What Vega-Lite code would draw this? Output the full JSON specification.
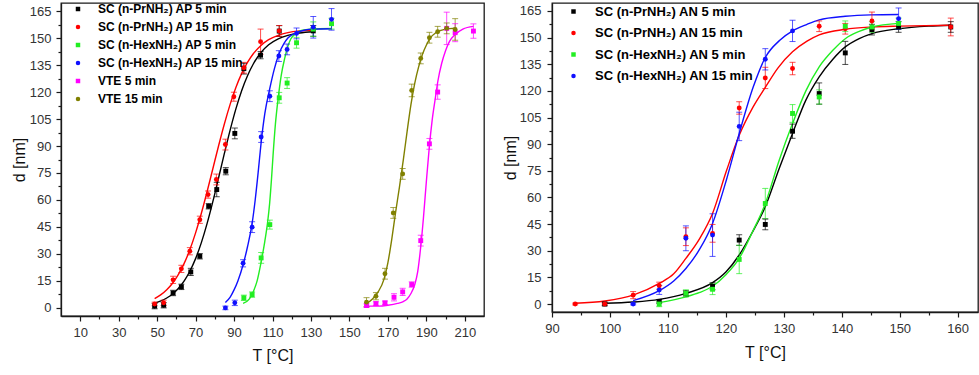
{
"$schema": "https://vega.github.io/schema/vega-lite/v6.json",
"padding": {"left": 10, "top": 2, "right": 0, "bottom": 0},
"spacing": 16,
"config": {
 "font": "Liberation Sans",
 "view": {"stroke": "#1a1a1a", "strokeWidth": 1.3},
 "axis": {"domainColor": "#1a1a1a", "tickColor": "#1a1a1a", "labelColor": "#333333", "labelFontSize": 13, "titleFontSize": 16, "titleFontWeight": "normal", "titleColor": "#111111", "grid": false, "domainWidth": 1.3, "tickWidth": 1.2, "labelFlush": false, "labelOverlap": false}
},
"datasets": {
 "pL": [
  {"s":"SC (n-PrNH₂) AP 5 min","T":48.7,"d":1,"lo":-0.5,"hi":2.5},{"s":"SC (n-PrNH₂) AP 5 min","T":53.4,"d":1.5,"lo":0,"hi":3},{"s":"SC (n-PrNH₂) AP 5 min","T":58.3,"d":8.3,"lo":6.8,"hi":9.8},{"s":"SC (n-PrNH₂) AP 5 min","T":62.6,"d":11.7,"lo":10.2,"hi":13.2},{"s":"SC (n-PrNH₂) AP 5 min","T":67.5,"d":20,"lo":18,"hi":22},{"s":"SC (n-PrNH₂) AP 5 min","T":72.2,"d":28.7,"lo":27.2,"hi":30.2},{"s":"SC (n-PrNH₂) AP 5 min","T":76.8,"d":56.5,"lo":55,"hi":58},{"s":"SC (n-PrNH₂) AP 5 min","T":81,"d":65.8,"lo":61.8,"hi":69.8},{"s":"SC (n-PrNH₂) AP 5 min","T":85.7,"d":76,"lo":74,"hi":78},{"s":"SC (n-PrNH₂) AP 5 min","T":90.4,"d":97,"lo":94,"hi":100},{"s":"SC (n-PrNH₂) AP 5 min","T":95.1,"d":133,"lo":130,"hi":136},{"s":"SC (n-PrNH₂) AP 5 min","T":103.8,"d":140.5,"lo":138.5,"hi":142.5},{"s":"SC (n-PrNH₂) AP 5 min","T":113.5,"d":153.9,"lo":150.9,"hi":156.9},{"s":"SC (n-PrNH₂) AP 5 min","T":131.2,"d":154,"lo":151,"hi":157},
  {"s":"SC (n-PrNH₂) AP 15 min","T":48.7,"d":2.2,"lo":1.2,"hi":3.2},{"s":"SC (n-PrNH₂) AP 15 min","T":53.4,"d":2.8,"lo":1.3,"hi":4.3},{"s":"SC (n-PrNH₂) AP 15 min","T":58.3,"d":15.6,"lo":13.6,"hi":17.6},{"s":"SC (n-PrNH₂) AP 15 min","T":62.6,"d":21.7,"lo":19.7,"hi":23.7},{"s":"SC (n-PrNH₂) AP 15 min","T":67,"d":31.5,"lo":29.5,"hi":33.5},{"s":"SC (n-PrNH₂) AP 15 min","T":72.2,"d":49,"lo":47,"hi":51},{"s":"SC (n-PrNH₂) AP 15 min","T":76.5,"d":63,"lo":61,"hi":65},{"s":"SC (n-PrNH₂) AP 15 min","T":80.8,"d":71.4,"lo":68.4,"hi":74.4},{"s":"SC (n-PrNH₂) AP 15 min","T":85.5,"d":90.8,"lo":87.8,"hi":93.8},{"s":"SC (n-PrNH₂) AP 15 min","T":89.9,"d":117.4,"lo":114.9,"hi":119.9},{"s":"SC (n-PrNH₂) AP 15 min","T":95.1,"d":133.5,"lo":130.5,"hi":136.5},{"s":"SC (n-PrNH₂) AP 15 min","T":103.8,"d":148,"lo":141,"hi":155},{"s":"SC (n-PrNH₂) AP 15 min","T":113.5,"d":154,"lo":151,"hi":157},
  {"s":"SC (n-HexNH₂) AP 5 min","T":95.1,"d":5.6,"lo":4.1,"hi":7.1},{"s":"SC (n-HexNH₂) AP 5 min","T":99.4,"d":7.4,"lo":5.9,"hi":8.9},{"s":"SC (n-HexNH₂) AP 5 min","T":104.1,"d":27.8,"lo":24.8,"hi":30.8},{"s":"SC (n-HexNH₂) AP 5 min","T":108.6,"d":46.3,"lo":43.8,"hi":48.8},{"s":"SC (n-HexNH₂) AP 5 min","T":113.5,"d":116.8,"lo":113.8,"hi":119.8},{"s":"SC (n-HexNH₂) AP 5 min","T":117.6,"d":125,"lo":122,"hi":128},{"s":"SC (n-HexNH₂) AP 5 min","T":122.5,"d":147.4,"lo":144.4,"hi":150.4},{"s":"SC (n-HexNH₂) AP 5 min","T":131.2,"d":155,"lo":151,"hi":159},{"s":"SC (n-HexNH₂) AP 5 min","T":140.7,"d":158,"lo":155,"hi":161},
  {"s":"SC (n-HexNH₂) AP 15 min","T":85.5,"d":0,"lo":-1,"hi":1},{"s":"SC (n-HexNH₂) AP 15 min","T":90.4,"d":2.8,"lo":1.3,"hi":4.3},{"s":"SC (n-HexNH₂) AP 15 min","T":94.7,"d":24.8,"lo":22.8,"hi":26.8},{"s":"SC (n-HexNH₂) AP 15 min","T":99.4,"d":44.9,"lo":41.9,"hi":47.9},{"s":"SC (n-HexNH₂) AP 15 min","T":104.1,"d":95,"lo":92,"hi":98},{"s":"SC (n-HexNH₂) AP 15 min","T":108.6,"d":117.7,"lo":114.7,"hi":120.7},{"s":"SC (n-HexNH₂) AP 15 min","T":113.3,"d":140,"lo":137,"hi":143},{"s":"SC (n-HexNH₂) AP 15 min","T":117.6,"d":143.7,"lo":140.7,"hi":146.7},{"s":"SC (n-HexNH₂) AP 15 min","T":122.5,"d":152.6,"lo":149.6,"hi":155.6},{"s":"SC (n-HexNH₂) AP 15 min","T":131.2,"d":156,"lo":150,"hi":162},{"s":"SC (n-HexNH₂) AP 15 min","T":140.7,"d":160.4,"lo":154.4,"hi":166.4},
  {"s":"VTE 5 min","T":158.9,"d":1.3,"lo":0.3,"hi":2.3},{"s":"VTE 5 min","T":163.8,"d":2.4,"lo":1.4,"hi":3.4},{"s":"VTE 5 min","T":168.5,"d":2.8,"lo":1.8,"hi":3.8},{"s":"VTE 5 min","T":173.2,"d":5.9,"lo":3.9,"hi":7.9},{"s":"VTE 5 min","T":177.7,"d":8.9,"lo":6.9,"hi":10.9},{"s":"VTE 5 min","T":182.4,"d":13,"lo":11.5,"hi":14.5},{"s":"VTE 5 min","T":187.1,"d":37.4,"lo":34.4,"hi":40.4},{"s":"VTE 5 min","T":191.6,"d":91.2,"lo":88.2,"hi":94.2},{"s":"VTE 5 min","T":195.9,"d":120,"lo":116,"hi":124},{"s":"VTE 5 min","T":200.6,"d":155.4,"lo":146.4,"hi":164.4},{"s":"VTE 5 min","T":205,"d":153,"lo":148,"hi":158},{"s":"VTE 5 min","T":214.5,"d":153.9,"lo":149.9,"hi":157.9},
  {"s":"VTE 15 min","T":158.9,"d":3.2,"lo":0.7,"hi":5.7},{"s":"VTE 15 min","T":163.8,"d":6.5,"lo":4.5,"hi":8.5},{"s":"VTE 15 min","T":168.5,"d":19,"lo":16,"hi":22},{"s":"VTE 15 min","T":172.8,"d":52.8,"lo":49.8,"hi":55.8},{"s":"VTE 15 min","T":177.7,"d":74.5,"lo":71.5,"hi":77.5},{"s":"VTE 15 min","T":182.4,"d":120.9,"lo":117.4,"hi":124.4},{"s":"VTE 15 min","T":187.1,"d":138.7,"lo":135.7,"hi":141.7},{"s":"VTE 15 min","T":191.6,"d":150.2,"lo":147.2,"hi":153.2},{"s":"VTE 15 min","T":195.9,"d":153.5,"lo":150.5,"hi":156.5},{"s":"VTE 15 min","T":200.6,"d":155.4,"lo":152.4,"hi":158.4},{"s":"VTE 15 min","T":205,"d":154.8,"lo":148.8,"hi":160.8}
 ],
 "fL": [
  {"s":"SC (n-PrNH₂) AP 5 min","T":48.7,"d":2.7},{"s":"SC (n-PrNH₂) AP 5 min","T":52,"d":3.9},{"s":"SC (n-PrNH₂) AP 5 min","T":55,"d":5.5},{"s":"SC (n-PrNH₂) AP 5 min","T":58,"d":7.7},{"s":"SC (n-PrNH₂) AP 5 min","T":61,"d":10.8},{"s":"SC (n-PrNH₂) AP 5 min","T":64,"d":14.9},{"s":"SC (n-PrNH₂) AP 5 min","T":67,"d":20.4},{"s":"SC (n-PrNH₂) AP 5 min","T":70,"d":27.4},{"s":"SC (n-PrNH₂) AP 5 min","T":73,"d":36.3},{"s":"SC (n-PrNH₂) AP 5 min","T":76,"d":47},{"s":"SC (n-PrNH₂) AP 5 min","T":79,"d":59.2},{"s":"SC (n-PrNH₂) AP 5 min","T":82,"d":72.5},{"s":"SC (n-PrNH₂) AP 5 min","T":85,"d":86},{"s":"SC (n-PrNH₂) AP 5 min","T":88,"d":99},{"s":"SC (n-PrNH₂) AP 5 min","T":91,"d":110.8},{"s":"SC (n-PrNH₂) AP 5 min","T":94,"d":120.9},{"s":"SC (n-PrNH₂) AP 5 min","T":97,"d":129.1},{"s":"SC (n-PrNH₂) AP 5 min","T":100,"d":135.6},{"s":"SC (n-PrNH₂) AP 5 min","T":104,"d":142},{"s":"SC (n-PrNH₂) AP 5 min","T":108,"d":146.3},{"s":"SC (n-PrNH₂) AP 5 min","T":113,"d":149.6},{"s":"SC (n-PrNH₂) AP 5 min","T":118,"d":151.5},{"s":"SC (n-PrNH₂) AP 5 min","T":124,"d":152.8},{"s":"SC (n-PrNH₂) AP 5 min","T":131.2,"d":153.5},
  {"s":"SC (n-PrNH₂) AP 15 min","T":48.7,"d":5.2},{"s":"SC (n-PrNH₂) AP 15 min","T":52,"d":7.35},{"s":"SC (n-PrNH₂) AP 15 min","T":55,"d":10.1},{"s":"SC (n-PrNH₂) AP 15 min","T":58,"d":13.7},{"s":"SC (n-PrNH₂) AP 15 min","T":61,"d":18.5},{"s":"SC (n-PrNH₂) AP 15 min","T":64,"d":24.6},{"s":"SC (n-PrNH₂) AP 15 min","T":67,"d":32.3},{"s":"SC (n-PrNH₂) AP 15 min","T":70,"d":41.7},{"s":"SC (n-PrNH₂) AP 15 min","T":73,"d":52.6},{"s":"SC (n-PrNH₂) AP 15 min","T":76,"d":64.7},{"s":"SC (n-PrNH₂) AP 15 min","T":79,"d":77.5},{"s":"SC (n-PrNH₂) AP 15 min","T":82,"d":90.3},{"s":"SC (n-PrNH₂) AP 15 min","T":85,"d":102.4},{"s":"SC (n-PrNH₂) AP 15 min","T":88,"d":113.3},{"s":"SC (n-PrNH₂) AP 15 min","T":91,"d":122.7},{"s":"SC (n-PrNH₂) AP 15 min","T":94,"d":130.4},{"s":"SC (n-PrNH₂) AP 15 min","T":97,"d":136.5},{"s":"SC (n-PrNH₂) AP 15 min","T":100,"d":141.3},{"s":"SC (n-PrNH₂) AP 15 min","T":104,"d":145.9},{"s":"SC (n-PrNH₂) AP 15 min","T":108,"d":149.1},{"s":"SC (n-PrNH₂) AP 15 min","T":113,"d":151.5},{"s":"SC (n-PrNH₂) AP 15 min","T":118,"d":153},{"s":"SC (n-PrNH₂) AP 15 min","T":124,"d":154},{"s":"SC (n-PrNH₂) AP 15 min","T":131.2,"d":154.5},
  {"s":"SC (n-HexNH₂) AP 5 min","T":94.7,"d":2.5},{"s":"SC (n-HexNH₂) AP 5 min","T":98,"d":5},{"s":"SC (n-HexNH₂) AP 5 min","T":100,"d":9},{"s":"SC (n-HexNH₂) AP 5 min","T":102,"d":15},{"s":"SC (n-HexNH₂) AP 5 min","T":104,"d":25},{"s":"SC (n-HexNH₂) AP 5 min","T":106,"d":37},{"s":"SC (n-HexNH₂) AP 5 min","T":107.5,"d":48},{"s":"SC (n-HexNH₂) AP 5 min","T":108.5,"d":58},{"s":"SC (n-HexNH₂) AP 5 min","T":109.5,"d":72},{"s":"SC (n-HexNH₂) AP 5 min","T":110.3,"d":85},{"s":"SC (n-HexNH₂) AP 5 min","T":111.5,"d":102},{"s":"SC (n-HexNH₂) AP 5 min","T":113,"d":117},{"s":"SC (n-HexNH₂) AP 5 min","T":114.5,"d":129},{"s":"SC (n-HexNH₂) AP 5 min","T":116.4,"d":139},{"s":"SC (n-HexNH₂) AP 5 min","T":118,"d":145.5},{"s":"SC (n-HexNH₂) AP 5 min","T":119.5,"d":149.5},{"s":"SC (n-HexNH₂) AP 5 min","T":122,"d":152.5},{"s":"SC (n-HexNH₂) AP 5 min","T":125,"d":154.3},{"s":"SC (n-HexNH₂) AP 5 min","T":130,"d":155},{"s":"SC (n-HexNH₂) AP 5 min","T":140.7,"d":155.3},
  {"s":"SC (n-HexNH₂) AP 15 min","T":85.5,"d":3},{"s":"SC (n-HexNH₂) AP 15 min","T":88,"d":6},{"s":"SC (n-HexNH₂) AP 15 min","T":90,"d":10},{"s":"SC (n-HexNH₂) AP 15 min","T":92,"d":15},{"s":"SC (n-HexNH₂) AP 15 min","T":94.7,"d":24},{"s":"SC (n-HexNH₂) AP 15 min","T":97,"d":34},{"s":"SC (n-HexNH₂) AP 15 min","T":99.4,"d":47},{"s":"SC (n-HexNH₂) AP 15 min","T":101,"d":60},{"s":"SC (n-HexNH₂) AP 15 min","T":102.7,"d":77},{"s":"SC (n-HexNH₂) AP 15 min","T":104.1,"d":92},{"s":"SC (n-HexNH₂) AP 15 min","T":106,"d":108},{"s":"SC (n-HexNH₂) AP 15 min","T":108.6,"d":122},{"s":"SC (n-HexNH₂) AP 15 min","T":111,"d":133},{"s":"SC (n-HexNH₂) AP 15 min","T":113.3,"d":141},{"s":"SC (n-HexNH₂) AP 15 min","T":116,"d":147},{"s":"SC (n-HexNH₂) AP 15 min","T":118,"d":150},{"s":"SC (n-HexNH₂) AP 15 min","T":122.5,"d":153},{"s":"SC (n-HexNH₂) AP 15 min","T":127,"d":154.5},{"s":"SC (n-HexNH₂) AP 15 min","T":131,"d":155},{"s":"SC (n-HexNH₂) AP 15 min","T":140.7,"d":155.2},
  {"s":"VTE 5 min","T":158.9,"d":1},{"s":"VTE 5 min","T":165,"d":1},{"s":"VTE 5 min","T":170,"d":1.5},{"s":"VTE 5 min","T":175,"d":2.5},{"s":"VTE 5 min","T":178,"d":3.5},{"s":"VTE 5 min","T":180,"d":5},{"s":"VTE 5 min","T":182,"d":8},{"s":"VTE 5 min","T":184,"d":13},{"s":"VTE 5 min","T":185.5,"d":20},{"s":"VTE 5 min","T":187,"d":33},{"s":"VTE 5 min","T":188.5,"d":50},{"s":"VTE 5 min","T":190,"d":70},{"s":"VTE 5 min","T":191.6,"d":90},{"s":"VTE 5 min","T":193,"d":104},{"s":"VTE 5 min","T":194.6,"d":116},{"s":"VTE 5 min","T":196,"d":126},{"s":"VTE 5 min","T":198,"d":136},{"s":"VTE 5 min","T":200,"d":143},{"s":"VTE 5 min","T":202,"d":148},{"s":"VTE 5 min","T":205,"d":152},{"s":"VTE 5 min","T":209,"d":155},{"s":"VTE 5 min","T":214.5,"d":156.5},
  {"s":"VTE 15 min","T":158.9,"d":2.5},{"s":"VTE 15 min","T":162,"d":5},{"s":"VTE 15 min","T":165,"d":9},{"s":"VTE 15 min","T":168,"d":16},{"s":"VTE 15 min","T":170,"d":25},{"s":"VTE 15 min","T":172,"d":38},{"s":"VTE 15 min","T":174,"d":53},{"s":"VTE 15 min","T":176,"d":67},{"s":"VTE 15 min","T":178,"d":82},{"s":"VTE 15 min","T":180,"d":98},{"s":"VTE 15 min","T":182,"d":113},{"s":"VTE 15 min","T":184,"d":125},{"s":"VTE 15 min","T":186,"d":134},{"s":"VTE 15 min","T":188,"d":141},{"s":"VTE 15 min","T":190,"d":146},{"s":"VTE 15 min","T":192,"d":150},{"s":"VTE 15 min","T":195,"d":153},{"s":"VTE 15 min","T":200,"d":155},{"s":"VTE 15 min","T":205,"d":155.5}
 ],
 "pR": [
  {"s":"SC (n-PrNH₂) AN 5 min","T":99.1,"d":0,"lo":-1,"hi":1},{"s":"SC (n-PrNH₂) AN 5 min","T":108.5,"d":1.5,"lo":0.5,"hi":2.5},{"s":"SC (n-PrNH₂) AN 5 min","T":113.1,"d":6,"lo":4.5,"hi":7.5},{"s":"SC (n-PrNH₂) AN 5 min","T":117.7,"d":10,"lo":8,"hi":12},{"s":"SC (n-PrNH₂) AN 5 min","T":122.3,"d":36,"lo":33,"hi":39},{"s":"SC (n-PrNH₂) AN 5 min","T":126.8,"d":44.8,"lo":41.8,"hi":47.8},{"s":"SC (n-PrNH₂) AN 5 min","T":131.5,"d":97.3,"lo":93.3,"hi":101.3},{"s":"SC (n-PrNH₂) AN 5 min","T":136.1,"d":118.5,"lo":112.5,"hi":124.5},{"s":"SC (n-PrNH₂) AN 5 min","T":140.6,"d":141.4,"lo":134.9,"hi":147.9},{"s":"SC (n-PrNH₂) AN 5 min","T":145.2,"d":154.5,"lo":151.5,"hi":157.5},{"s":"SC (n-PrNH₂) AN 5 min","T":149.8,"d":156,"lo":153,"hi":159},{"s":"SC (n-PrNH₂) AN 5 min","T":158.8,"d":156,"lo":153,"hi":159},
  {"s":"SC (n-PrNH₂) AN 15 min","T":94,"d":0,"lo":-0.5,"hi":0.5},{"s":"SC (n-PrNH₂) AN 15 min","T":99.1,"d":0,"lo":-0.5,"hi":0.5},{"s":"SC (n-PrNH₂) AN 15 min","T":104,"d":5,"lo":3,"hi":7},{"s":"SC (n-PrNH₂) AN 15 min","T":108.5,"d":10.3,"lo":8.3,"hi":12.3},{"s":"SC (n-PrNH₂) AN 15 min","T":113.1,"d":37.9,"lo":32.9,"hi":42.9},{"s":"SC (n-PrNH₂) AN 15 min","T":117.7,"d":39.8,"lo":34.8,"hi":44.8},{"s":"SC (n-PrNH₂) AN 15 min","T":122.3,"d":110.4,"lo":106.9,"hi":113.9},{"s":"SC (n-PrNH₂) AN 15 min","T":126.8,"d":127.3,"lo":121.3,"hi":133.3},{"s":"SC (n-PrNH₂) AN 15 min","T":131.5,"d":132.6,"lo":129.1,"hi":136.1},{"s":"SC (n-PrNH₂) AN 15 min","T":136.1,"d":156.4,"lo":153.4,"hi":159.4},{"s":"SC (n-PrNH₂) AN 15 min","T":140.6,"d":155,"lo":152,"hi":158},{"s":"SC (n-PrNH₂) AN 15 min","T":145.2,"d":159.4,"lo":154.4,"hi":164.4},{"s":"SC (n-PrNH₂) AN 15 min","T":158.8,"d":156,"lo":151,"hi":161},
  {"s":"SC (n-HexNH₂) AN 5 min","T":108.5,"d":0,"lo":-1.5,"hi":1.5},{"s":"SC (n-HexNH₂) AN 5 min","T":113.1,"d":6,"lo":4,"hi":8},{"s":"SC (n-HexNH₂) AN 5 min","T":117.7,"d":8.3,"lo":5.3,"hi":11.3},{"s":"SC (n-HexNH₂) AN 5 min","T":122.3,"d":25.1,"lo":17.1,"hi":33.1},{"s":"SC (n-HexNH₂) AN 5 min","T":126.8,"d":56.6,"lo":48.1,"hi":65.1},{"s":"SC (n-HexNH₂) AN 5 min","T":131.5,"d":107.3,"lo":102.3,"hi":112.3},{"s":"SC (n-HexNH₂) AN 5 min","T":136.1,"d":116.6,"lo":112.6,"hi":120.6},{"s":"SC (n-HexNH₂) AN 5 min","T":140.6,"d":156.4,"lo":153.4,"hi":159.4},{"s":"SC (n-HexNH₂) AN 5 min","T":145.2,"d":156,"lo":153,"hi":159},{"s":"SC (n-HexNH₂) AN 5 min","T":149.8,"d":158,"lo":155,"hi":161},
  {"s":"SC (n-HexNH₂) AN 15 min","T":104,"d":0,"lo":-0.5,"hi":0.5},{"s":"SC (n-HexNH₂) AN 15 min","T":108.5,"d":7.9,"lo":5.4,"hi":10.4},{"s":"SC (n-HexNH₂) AN 15 min","T":113.1,"d":37,"lo":30,"hi":44},{"s":"SC (n-HexNH₂) AN 15 min","T":117.7,"d":38.8,"lo":26.8,"hi":50.8},{"s":"SC (n-HexNH₂) AN 15 min","T":122.3,"d":100,"lo":92,"hi":108},{"s":"SC (n-HexNH₂) AN 15 min","T":126.8,"d":137.8,"lo":131.8,"hi":143.8},{"s":"SC (n-HexNH₂) AN 15 min","T":131.5,"d":153.8,"lo":147.8,"hi":159.8},{"s":"SC (n-HexNH₂) AN 15 min","T":149.8,"d":160.7,"lo":154.7,"hi":166.7}
 ],
 "fR": [
  {"s":"SC (n-PrNH₂) AN 5 min","T":99.1,"d":0.4},{"s":"SC (n-PrNH₂) AN 5 min","T":104,"d":1.1},{"s":"SC (n-PrNH₂) AN 5 min","T":108.5,"d":2.6},{"s":"SC (n-PrNH₂) AN 5 min","T":113.1,"d":6},{"s":"SC (n-PrNH₂) AN 5 min","T":117.7,"d":12},{"s":"SC (n-PrNH₂) AN 5 min","T":120,"d":18},{"s":"SC (n-PrNH₂) AN 5 min","T":122.3,"d":27.6},{"s":"SC (n-PrNH₂) AN 5 min","T":124.5,"d":40},{"s":"SC (n-PrNH₂) AN 5 min","T":126.8,"d":54.8},{"s":"SC (n-PrNH₂) AN 5 min","T":129.2,"d":76.3},{"s":"SC (n-PrNH₂) AN 5 min","T":131.5,"d":96},{"s":"SC (n-PrNH₂) AN 5 min","T":133.8,"d":114.8},{"s":"SC (n-PrNH₂) AN 5 min","T":136.1,"d":127.9},{"s":"SC (n-PrNH₂) AN 5 min","T":138.5,"d":138},{"s":"SC (n-PrNH₂) AN 5 min","T":140.6,"d":144.8},{"s":"SC (n-PrNH₂) AN 5 min","T":143,"d":149.5},{"s":"SC (n-PrNH₂) AN 5 min","T":145.2,"d":152.3},{"s":"SC (n-PrNH₂) AN 5 min","T":149.8,"d":155},{"s":"SC (n-PrNH₂) AN 5 min","T":155,"d":156.5},{"s":"SC (n-PrNH₂) AN 5 min","T":158.8,"d":157},
  {"s":"SC (n-PrNH₂) AN 15 min","T":94,"d":0.4},{"s":"SC (n-PrNH₂) AN 15 min","T":99.1,"d":1.7},{"s":"SC (n-PrNH₂) AN 15 min","T":104,"d":5},{"s":"SC (n-PrNH₂) AN 15 min","T":108.5,"d":11.6},{"s":"SC (n-PrNH₂) AN 15 min","T":111,"d":17},{"s":"SC (n-PrNH₂) AN 15 min","T":113.1,"d":25.7},{"s":"SC (n-PrNH₂) AN 15 min","T":115.5,"d":37},{"s":"SC (n-PrNH₂) AN 15 min","T":117.7,"d":51},{"s":"SC (n-PrNH₂) AN 15 min","T":120.1,"d":75},{"s":"SC (n-PrNH₂) AN 15 min","T":122.3,"d":95},{"s":"SC (n-PrNH₂) AN 15 min","T":124.7,"d":111},{"s":"SC (n-PrNH₂) AN 15 min","T":126.8,"d":122},{"s":"SC (n-PrNH₂) AN 15 min","T":129,"d":133},{"s":"SC (n-PrNH₂) AN 15 min","T":131.5,"d":142},{"s":"SC (n-PrNH₂) AN 15 min","T":134,"d":148},{"s":"SC (n-PrNH₂) AN 15 min","T":136.1,"d":151.5},{"s":"SC (n-PrNH₂) AN 15 min","T":140.6,"d":154.7},{"s":"SC (n-PrNH₂) AN 15 min","T":145.2,"d":156},{"s":"SC (n-PrNH₂) AN 15 min","T":150,"d":156.5},{"s":"SC (n-PrNH₂) AN 15 min","T":158.8,"d":157},
  {"s":"SC (n-HexNH₂) AN 5 min","T":108.5,"d":0.75},{"s":"SC (n-HexNH₂) AN 5 min","T":113.1,"d":4},{"s":"SC (n-HexNH₂) AN 5 min","T":115.5,"d":6.5},{"s":"SC (n-HexNH₂) AN 5 min","T":117.7,"d":10},{"s":"SC (n-HexNH₂) AN 5 min","T":120,"d":16.5},{"s":"SC (n-HexNH₂) AN 5 min","T":122.3,"d":25.7},{"s":"SC (n-HexNH₂) AN 5 min","T":124.5,"d":40},{"s":"SC (n-HexNH₂) AN 5 min","T":126.8,"d":56.6},{"s":"SC (n-HexNH₂) AN 5 min","T":129.2,"d":81},{"s":"SC (n-HexNH₂) AN 5 min","T":131.5,"d":101.6},{"s":"SC (n-HexNH₂) AN 5 min","T":133.8,"d":120},{"s":"SC (n-HexNH₂) AN 5 min","T":136.1,"d":133.5},{"s":"SC (n-HexNH₂) AN 5 min","T":138.5,"d":143},{"s":"SC (n-HexNH₂) AN 5 min","T":140.6,"d":149.4},{"s":"SC (n-HexNH₂) AN 5 min","T":143,"d":153.5},{"s":"SC (n-HexNH₂) AN 5 min","T":145.2,"d":156},{"s":"SC (n-HexNH₂) AN 5 min","T":149.8,"d":158},
  {"s":"SC (n-HexNH₂) AN 15 min","T":104,"d":1.9},{"s":"SC (n-HexNH₂) AN 15 min","T":108.5,"d":7.5},{"s":"SC (n-HexNH₂) AN 15 min","T":111,"d":13},{"s":"SC (n-HexNH₂) AN 15 min","T":113.1,"d":20},{"s":"SC (n-HexNH₂) AN 15 min","T":115.5,"d":31},{"s":"SC (n-HexNH₂) AN 15 min","T":117.7,"d":45.4},{"s":"SC (n-HexNH₂) AN 15 min","T":120.1,"d":70},{"s":"SC (n-HexNH₂) AN 15 min","T":122.3,"d":96},{"s":"SC (n-HexNH₂) AN 15 min","T":124.7,"d":122},{"s":"SC (n-HexNH₂) AN 15 min","T":126.8,"d":138.8},{"s":"SC (n-HexNH₂) AN 15 min","T":129.3,"d":148.5},{"s":"SC (n-HexNH₂) AN 15 min","T":131.5,"d":153.8},{"s":"SC (n-HexNH₂) AN 15 min","T":134,"d":157.5},{"s":"SC (n-HexNH₂) AN 15 min","T":136.1,"d":160},{"s":"SC (n-HexNH₂) AN 15 min","T":140.6,"d":162},{"s":"SC (n-HexNH₂) AN 15 min","T":145,"d":162.8},{"s":"SC (n-HexNH₂) AN 15 min","T":149.8,"d":163}
 ]
},
"resolve": {"scale": {"color": "independent", "shape": "independent", "stroke": "independent", "fill": "independent"}, "legend": {"color": "independent", "shape": "independent"}},
"hconcat": [
 {
  "width": 423, "height": 313,
  "resolve": {"axis": {"x": "independent", "y": "independent"}},
  "layer": [
   {"data": {"name": "fL"}, "mark": {"type": "line", "strokeWidth": 1.4, "interpolate": "monotone"},
    "encoding": {
     "x": {"field": "T", "type": "quantitative", "scale": {"domain": [0, 220], "nice": false, "zero": false}, "axis": {"orient": "bottom", "values": [20,40,60,80,100,120,140,160,180,200], "labels": false, "domain": false, "tickSize": 3, "title": null}},
     "y": {"field": "d", "type": "quantitative", "scale": {"domain": [-4.5, 169.5], "nice": false, "zero": false}, "axis": {"orient": "left", "values": [7.5,22.5,37.5,52.5,67.5,82.5,97.5,112.5,127.5,142.5,157.5], "labels": false, "domain": false, "tickSize": 3, "title": null}},
     "stroke": {"field": "s", "type": "nominal", "legend": null, "scale": {"range": ["#1010ff","#22ee22","#ff0000","#000000","#808000","#ff00ff"]}}
    }},
   {"data": {"name": "pL"}, "mark": {"type": "rule", "strokeWidth": 1, "opacity": 0.7},
    "encoding": {
     "x": {"field": "T", "type": "quantitative", "axis": null},
     "y": {"field": "lo", "type": "quantitative", "axis": null},
     "y2": {"field": "hi"},
     "stroke": {"field": "s", "type": "nominal", "legend": null}
    }},
   {"data": {"name": "pL"}, "mark": {"type": "tick", "orient": "horizontal", "size": 6, "thickness": 1, "opacity": 0.7},
    "encoding": {
     "x": {"field": "T", "type": "quantitative", "axis": null},
     "y": {"field": "lo", "type": "quantitative", "axis": null},
     "fill": {"field": "s", "type": "nominal", "legend": null, "scale": {"range": ["#1010ff","#22ee22","#ff0000","#000000","#808000","#ff00ff"]}}
    }},
   {"data": {"name": "pL"}, "mark": {"type": "tick", "orient": "horizontal", "size": 6, "thickness": 1, "opacity": 0.7},
    "encoding": {
     "x": {"field": "T", "type": "quantitative", "axis": null},
     "y": {"field": "hi", "type": "quantitative", "axis": null},
     "fill": {"field": "s", "type": "nominal", "legend": null}
    }},
   {"data": {"name": "pL"}, "mark": {"type": "point", "filled": true, "opacity": 1, "size": 24},
    "encoding": {
     "x": {"field": "T", "type": "quantitative", "axis": {"orient": "bottom", "values": [10,30,50,70,90,110,130,150,170,190,210], "tickSize": 5, "labelPadding": 5, "titlePadding": 8, "title": "T [°C]"}},
     "y": {"field": "d", "type": "quantitative", "axis": {"orient": "left", "values": [0,15,30,45,60,75,90,105,120,135,150,165], "tickSize": 5, "labelPadding": 5, "titlePadding": 2, "title": "d [nm]"}},
     "color": {"field": "s", "type": "nominal", "scale": {"domain": ["SC (n-PrNH₂) AP 5 min","SC (n-PrNH₂) AP 15 min","SC (n-HexNH₂) AP 5 min","SC (n-HexNH₂) AP 15 min","VTE 5 min","VTE 15 min"], "range": ["#000000","#ff0000","#22ee22","#1010ff","#ff00ff","#808000"]}, "legend": {"title": null, "orient": "none", "legendX": 11, "legendY": 0, "labelFontSize": 12, "labelFontWeight": "bold", "labelColor": "#000000", "symbolSize": 20, "rowPadding": 6, "labelOffset": 14}},
     "shape": {"field": "s", "type": "nominal", "scale": {"domain": ["SC (n-PrNH₂) AP 5 min","SC (n-PrNH₂) AP 15 min","SC (n-HexNH₂) AP 5 min","SC (n-HexNH₂) AP 15 min","VTE 5 min","VTE 15 min"], "range": ["square","circle","square","circle","square","circle"]}, "legend": {"title": null, "orient": "none", "legendX": 11, "legendY": 0, "labelFontSize": 12, "labelFontWeight": "bold", "labelColor": "#000000", "symbolSize": 20, "rowPadding": 6, "labelOffset": 14}}
    }}
  ]
 },
 {
  "width": 426, "height": 309,
  "resolve": {"axis": {"x": "independent", "y": "independent"}},
  "layer": [
   {"data": {"name": "fR"}, "mark": {"type": "line", "strokeWidth": 1.4, "interpolate": "monotone"},
    "encoding": {
     "x": {"field": "T", "type": "quantitative", "scale": {"domain": [90, 163.5], "nice": false, "zero": false}, "axis": {"orient": "bottom", "values": [95,105,115,125,135,145,155], "labels": false, "domain": false, "tickSize": 3, "title": null}},
     "y": {"field": "d", "type": "quantitative", "scale": {"domain": [-4.5, 169.5], "nice": false, "zero": false}, "axis": {"orient": "left", "values": [7.5,22.5,37.5,52.5,67.5,82.5,97.5,112.5,127.5,142.5,157.5], "labels": false, "domain": false, "tickSize": 3, "title": null}},
     "stroke": {"field": "s", "type": "nominal", "legend": null, "scale": {"range": ["#1010ff","#22ee22","#ff0000","#000000"]}}
    }},
   {"data": {"name": "pR"}, "mark": {"type": "rule", "strokeWidth": 1, "opacity": 0.7},
    "encoding": {
     "x": {"field": "T", "type": "quantitative", "axis": null},
     "y": {"field": "lo", "type": "quantitative", "axis": null},
     "y2": {"field": "hi"},
     "stroke": {"field": "s", "type": "nominal", "legend": null}
    }},
   {"data": {"name": "pR"}, "mark": {"type": "tick", "orient": "horizontal", "size": 6, "thickness": 1, "opacity": 0.7},
    "encoding": {
     "x": {"field": "T", "type": "quantitative", "axis": null},
     "y": {"field": "lo", "type": "quantitative", "axis": null},
     "fill": {"field": "s", "type": "nominal", "legend": null, "scale": {"range": ["#1010ff","#22ee22","#ff0000","#000000"]}}
    }},
   {"data": {"name": "pR"}, "mark": {"type": "tick", "orient": "horizontal", "size": 6, "thickness": 1, "opacity": 0.7},
    "encoding": {
     "x": {"field": "T", "type": "quantitative", "axis": null},
     "y": {"field": "hi", "type": "quantitative", "axis": null},
     "fill": {"field": "s", "type": "nominal", "legend": null}
    }},
   {"data": {"name": "pR"}, "mark": {"type": "point", "filled": true, "opacity": 1, "size": 24},
    "encoding": {
     "x": {"field": "T", "type": "quantitative", "axis": {"orient": "bottom", "values": [90,100,110,120,130,140,150,160], "tickSize": 5, "labelPadding": 5, "titlePadding": 9, "title": "T [°C]"}},
     "y": {"field": "d", "type": "quantitative", "axis": {"orient": "left", "values": [0,15,30,45,60,75,90,105,120,135,150,165], "tickSize": 5, "labelPadding": 6, "titlePadding": 1, "title": "d [nm]"}},
     "color": {"field": "s", "type": "nominal", "scale": {"domain": ["SC (n-PrNH₂) AN 5 min","SC (n-PrNH₂) AN 15 min","SC (n-HexNH₂) AN 5 min","SC (n-HexNH₂) AN 15 min"], "range": ["#000000","#ff0000","#22ee22","#1010ff"]}, "legend": {"title": null, "orient": "none", "legendX": 15, "legendY": 2, "labelFontSize": 13, "labelFontWeight": "bold", "labelColor": "#000000", "symbolSize": 20, "rowPadding": 7.5, "labelOffset": 15}},
     "shape": {"field": "s", "type": "nominal", "scale": {"domain": ["SC (n-PrNH₂) AN 5 min","SC (n-PrNH₂) AN 15 min","SC (n-HexNH₂) AN 5 min","SC (n-HexNH₂) AN 15 min"], "range": ["square","circle","square","circle"]}, "legend": {"title": null, "orient": "none", "legendX": 15, "legendY": 2, "labelFontSize": 13, "labelFontWeight": "bold", "labelColor": "#000000", "symbolSize": 20, "rowPadding": 7.5, "labelOffset": 15}}
    }}
  ]
 }
]
}
